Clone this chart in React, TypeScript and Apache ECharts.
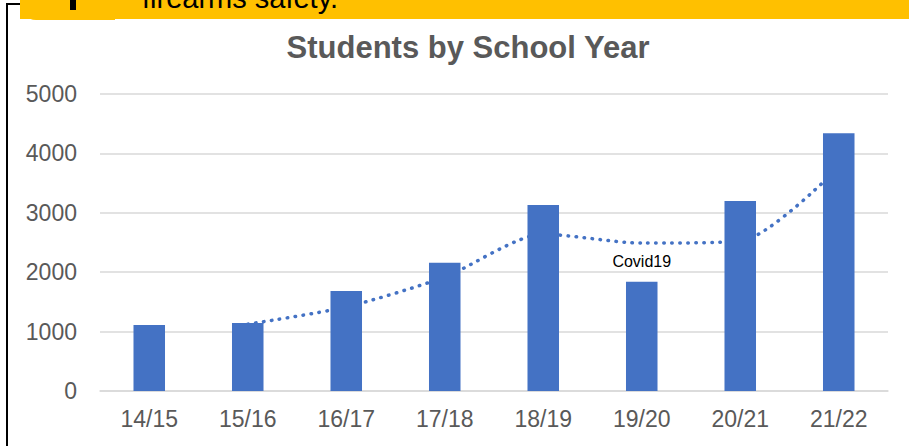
import React, { useEffect, useRef } from "react";
import * as echarts from "echarts";

const categories = ["14/15", "15/16", "16/17", "17/18", "18/19", "19/20", "20/21", "21/22"];
const students = [1110, 1145, 1685, 2160, 3130, 1840, 3200, 4340];
const trend = [null, 1125, 1415, 1920, 2640, 2490, 2520, 3770];
const yTicks = { min: 0, max: 5000, interval: 1000 };
const titleText = "Students by School Year";
const bannerText = "firearms safety.";
const noteText = "Covid19";
const noteIndex = 5;

export default function App() {
  const ref = useRef<HTMLDivElement>(null);
  useEffect(() => {
    if (!ref.current) return;
    const chart = echarts.init(ref.current, null, { renderer: "svg" });
    const font = "'Liberation Sans', Arial, sans-serif";
    chart.setOption({
      animation: false,
      backgroundColor: "#ffffff",
      title: {
        text: titleText,
        left: 463,
        textAlign: "center",
        top: 27,
        textStyle: { color: "#595959", fontSize: 31, fontWeight: "bold", fontFamily: font },
      },
      grid: { left: 100, right: 21, top: 94, bottom: 55 },
      xAxis: {
        type: "category",
        data: categories,
        axisLine: { lineStyle: { color: "#d9d9d9", width: 1.5 } },
        axisTick: { show: false },
        axisLabel: { color: "#595959", fontSize: 23, fontFamily: font, margin: 16 },
      },
      yAxis: {
        type: "value",
        min: yTicks.min,
        max: yTicks.max,
        interval: yTicks.interval,
        axisLine: { show: false },
        axisTick: { show: false },
        splitLine: { lineStyle: { color: "#d9d9d9", width: 1.5 } },
        axisLabel: {
          color: "#595959",
          fontSize: 23,
          fontFamily: font,
          margin: 23,
          formatter: (v: number) => String(v),
        },
      },
      series: [
        {
          type: "line",
          data: trend,
          z: 1,
          smooth: 0.25,
          symbol: "none",
          lineStyle: { color: "#4472C4", width: 3.5, type: [0.5, 7.5], cap: "round" },
        },
        {
          type: "bar",
          z: 2,
          barWidth: "32%",
          itemStyle: { color: "#4472C4" },
          data: students.map((v, i) =>
            i === noteIndex
              ? {
                  value: v,
                  label: {
                    show: true,
                    position: "top",
                    distance: 12,
                    formatter: noteText,
                    color: "#000000",
                    fontSize: 16,
                    fontFamily: font,
                  },
                }
              : v
          ),
        },
      ],
      graphic: [
        { type: "rect", shape: { x: 6, y: 3, width: 2, height: 446 }, style: { fill: "#000" } },
        { type: "rect", shape: { x: 6, y: 3, width: 20, height: 2 }, style: { fill: "#000" } },
        { type: "rect", shape: { x: 20, y: -20, width: 889, height: 39 }, style: { fill: "#FFC000" } },
        { type: "rect", shape: { x: 20, y: -20, width: 95, height: 40, r: [0, 0, 0, 16] }, style: { fill: "#FFC000" } },
        { type: "rect", shape: { x: 70, y: 0, width: 6, height: 10 }, style: { fill: "#000" } },
        {
          type: "text",
          x: 142,
          y: 12,
          style: { text: bannerText, fill: "#000", fontSize: 29, fontFamily: font, verticalAlign: "bottom" },
        },
      ],
    });
    return () => chart.dispose();
  }, []);
  return <div ref={ref} style={{ position: "absolute", left: 0, top: 0, width: 909, height: 446 }} />;
}
